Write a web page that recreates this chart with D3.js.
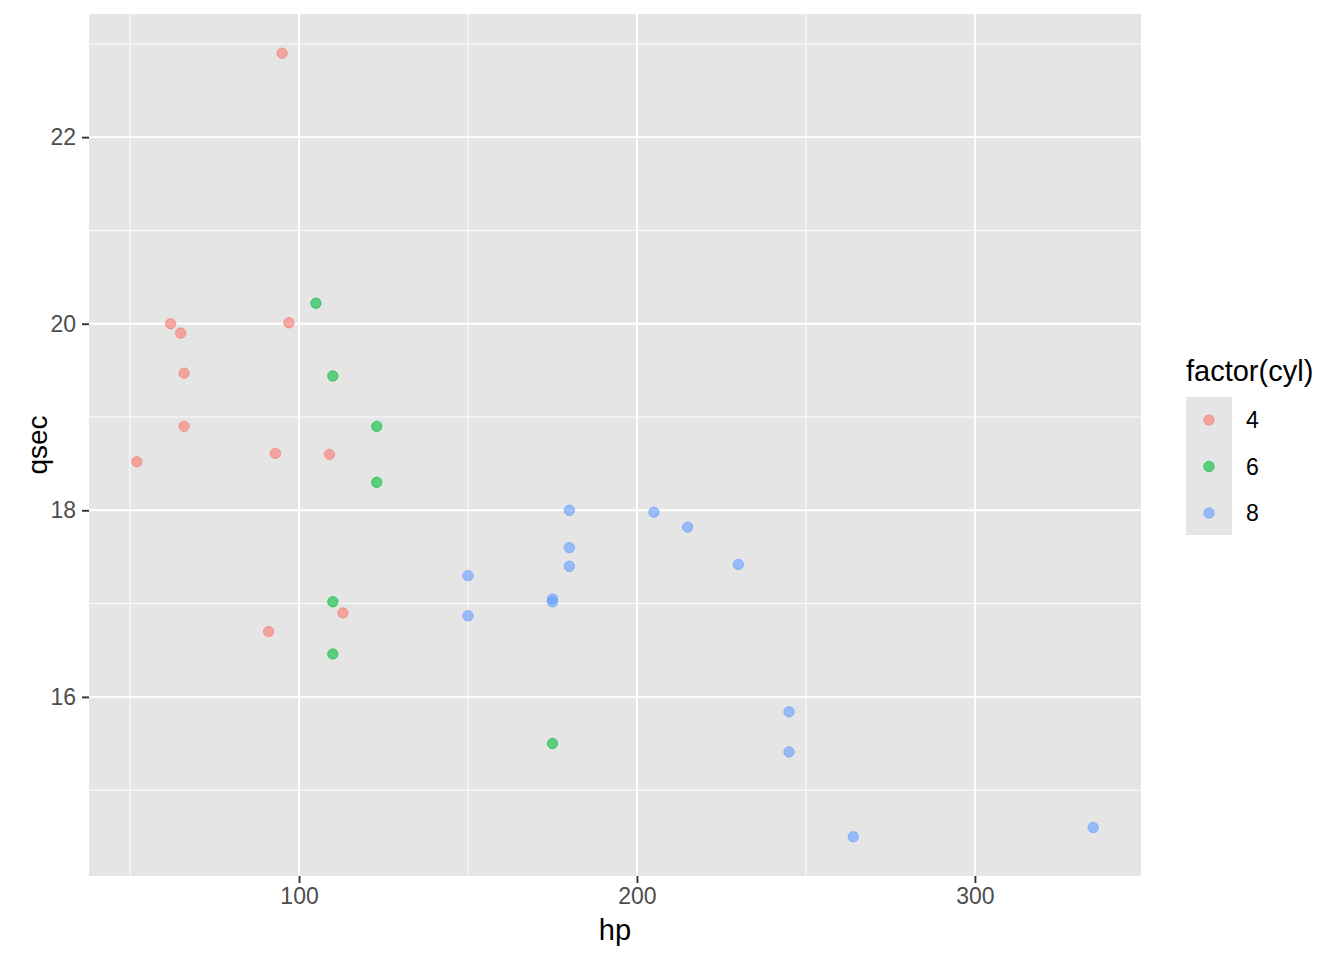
<!DOCTYPE html>
<html>
<head>
<meta charset="utf-8">
<script src="https://cdn.jsdelivr.net/npm/d3@7"></script>
<style>
  body { margin: 0; background: #fff; }
  text { font-family: Helvetica, Arial, "Liberation Sans", sans-serif; }
</style>
</head>
<body>
<svg id="chart" width="1344" height="960"></svg>
<script>
// mtcars: hp, qsec, cyl
const hp = [110, 110, 93, 110, 175, 105, 245, 62, 95, 123, 123, 180, 180, 180, 205, 215,
            230, 66, 52, 65, 97, 150, 150, 245, 175, 66, 91, 113, 264, 175, 335, 109]
const qsec = [16.46, 17.02, 18.61, 19.44, 17.02, 20.22, 15.84, 20.00, 22.90, 18.30, 18.90,
              17.40, 17.60, 18.00, 17.98, 17.82, 17.42, 19.47, 18.52, 19.90, 20.01, 16.87,
              17.30, 15.41, 17.05, 18.90, 16.70, 16.90, 14.50, 15.50, 14.60, 18.60]
const cyl = [6, 6, 4, 6, 8, 6, 8, 4, 4, 6, 6, 8, 8, 8, 8, 8, 8, 4, 4, 4, 4, 8, 8, 8, 8, 4, 4, 4, 8, 6, 8, 4]
const cylLevels = ["4", "6", "8"]
const cylColors = ["#F8766D", "#00BA38", "#619CFF"]
const xTicks = [100, 200, 300]
const yTicks = [16, 18, 20, 22]

const svg = d3.select("#chart")
const panel = { left: 89, right: 1141, top: 14, bottom: 876 }

// ggplot style 5% expansion
var xr = d3.extent(hp), yr = d3.extent(qsec)
var xpad = (xr[1] - xr[0]) * 0.05, ypad = (yr[1] - yr[0]) * 0.05
const x = d3.scaleLinear().domain([xr[0] - xpad, xr[1] + xpad]).range([panel.left, panel.right])
const y = d3.scaleLinear().domain([yr[0] - ypad, yr[1] + ypad]).range([panel.bottom, panel.top])
const color = d3.scaleOrdinal().domain(cylLevels).range(cylColors)

svg.append("rect")
    .attr("x", panel.left).attr("y", panel.top)
    .attr("width", panel.right - panel.left).attr("height", panel.bottom - panel.top)
    .attr("fill", "#E5E5E5")

// minor grid (midpoints between breaks)
var xMinor = [50, 150, 250]
var yMinor = [15, 17, 19, 21, 23]
svg.append("g").selectAll("line").data(xMinor).join("line")
    .attr("x1", d => x(d)).attr("x2", d => x(d))
    .attr("y1", panel.top).attr("y2", panel.bottom)
    .attr("stroke", "#fff").attr("stroke-width", 0.9)
svg.append("g").selectAll("line").data(yMinor.filter(d => y(d) >= panel.top && y(d) <= panel.bottom)).join("line")
    .attr("x1", panel.left).attr("x2", panel.right)
    .attr("y1", d => y(d)).attr("y2", d => y(d))
    .attr("stroke", "#fff").attr("stroke-width", 0.9)

// major grid
svg.append("g").selectAll("line").data(xTicks).join("line")
    .attr("x1", d => x(d)).attr("x2", d => x(d))
    .attr("y1", panel.top).attr("y2", panel.bottom)
    .attr("stroke", "#fff").attr("stroke-width", 1.9)
svg.append("g").selectAll("line").data(yTicks).join("line")
    .attr("x1", panel.left).attr("x2", panel.right)
    .attr("y1", d => y(d)).attr("y2", d => y(d))
    .attr("stroke", "#fff").attr("stroke-width", 1.9)

// axes
var xAxis = svg.append("g").attr("transform", "translate(0," + panel.bottom + ")")
    .call(d3.axisBottom(x).tickValues(xTicks).tickSize(7).tickPadding(5))
var yAxis = svg.append("g").attr("transform", "translate(" + panel.left + ",0)")
    .call(d3.axisLeft(y).tickValues(yTicks).tickSize(7).tickPadding(6))
;[xAxis, yAxis].forEach(function (a) {
    a.select(".domain").remove()
    a.selectAll(".tick line").attr("stroke", "#333").attr("stroke-width", 1.9)
    a.selectAll(".tick text").attr("fill", "#4D4D4D").style("font-size", "23px")
})

// points
var pts = hp.map((h, i) => ({ hp: h, qsec: qsec[i], cyl: String(cyl[i]) }))
svg.append("g").selectAll("circle").data(pts).join("circle")
    .attr("cx", d => x(d.hp)).attr("cy", d => y(d.qsec))
    .attr("r", 5.2)
    .attr("fill", d => color(d.cyl))
    .attr("fill-opacity", 0.6)
    .attr("stroke", d => color(d.cyl))
    .attr("stroke-opacity", 0.6)
    .attr("stroke-width", 1)

// axis titles
svg.append("text").attr("x", (panel.left + panel.right) / 2).attr("y", 940)
    .attr("text-anchor", "middle").style("font-size", "29px").attr("fill", "#000").text("hp")
svg.append("text")
    .attr("transform", "translate(47," + ((panel.top + panel.bottom) / 2) + ") rotate(-90)")
    .attr("text-anchor", "middle").style("font-size", "28px").attr("fill", "#000").text("qsec")

// legend
var lg = svg.append("g").attr("transform", "translate(1186,0)")
lg.append("text").attr("x", 0).attr("y", 381).style("font-size", "29px").attr("fill", "#000").text("factor(cyl)")
lg.append("rect").attr("x", 0).attr("y", 397).attr("width", 46).attr("height", 138).attr("fill", "#E5E5E5")
var items = lg.selectAll("g.item").data(cylLevels).join("g")
    .attr("transform", (d, i) => "translate(0," + (420 + i * 46.5) + ")")
items.append("circle").attr("cx", 23).attr("cy", 0).attr("r", 5.2)
    .attr("fill", d => color(d)).attr("fill-opacity", 0.6)
    .attr("stroke", d => color(d)).attr("stroke-opacity", 0.6).attr("stroke-width", 1)
items.append("text").attr("x", 60).attr("y", 0).attr("dy", "0.35em")
    .style("font-size", "23px").attr("fill", "#000").text(d => d)
</script>
</body>
</html>
